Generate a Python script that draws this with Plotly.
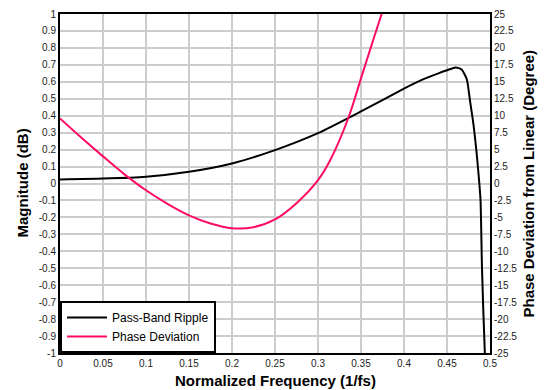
import plotly.graph_objects as go

# =========================
# DATA
# =========================
ripple_freq = [0, 0.05, 0.1, 0.15, 0.2, 0.25, 0.3, 0.35, 0.4, 0.42, 0.44, 0.45,
               0.46, 0.467, 0.473, 0.4767, 0.4806, 0.4845, 0.4876, 0.489,
               0.4907, 0.494, 0.4955]
ripple_db = [0.024, 0.029, 0.04, 0.069, 0.118, 0.197, 0.297, 0.425, 0.56, 0.61,
             0.65, 0.668, 0.685, 0.672, 0.615, 0.49, 0.355, 0.177, 0.0, -0.1,
             -0.5, -1.0, -1.1]

phase_freq = [0, 0.025, 0.05, 0.075, 0.1, 0.125, 0.15, 0.175, 0.2, 0.225,
              0.25, 0.275, 0.3, 0.314, 0.3345, 0.35, 0.362, 0.374, 0.378]
phase_deg = [9.6, 6.75, 4.0, 1.35, -1.0, -3.0, -4.7, -5.9, -6.6, -6.45,
             -5.3, -2.9, 0.5, 3.4, 9.4, 15.5, 20.3, 25.0, 26.5]

x_ticks = [0, 0.05, 0.1, 0.15, 0.2, 0.25, 0.3, 0.35, 0.4, 0.45, 0.5]
y_ticks = [1, 0.9, 0.8, 0.7, 0.6, 0.5, 0.4, 0.3, 0.2, 0.1, 0,
           -0.1, -0.2, -0.3, -0.4, -0.5, -0.6, -0.7, -0.8, -0.9, -1]
y2_ticks = [25, 22.5, 20, 17.5, 15, 12.5, 10, 7.5, 5, 2.5, 0,
            -2.5, -5, -7.5, -10, -12.5, -15, -17.5, -20, -22.5, -25]

FONT = "Liberation Sans, Arial, sans-serif"
GRID = "#cccccc"


def label(v):
    return f"{v:g}"


fig = go.Figure()

# Pass-band ripple (left axis)
fig.add_trace(
    go.Scatter(
        x=ripple_freq,
        y=ripple_db,
        mode="lines",
        name="Pass-Band Ripple",
        line=dict(color="black", width=2, shape="spline", smoothing=0.6)
    )
)

# Phase deviation (right axis)
fig.add_trace(
    go.Scatter(
        x=phase_freq,
        y=phase_deg,
        mode="lines",
        name="Phase Deviation",
        yaxis="y2",
        line=dict(color="#ff0a64", width=2, shape="spline", smoothing=1.0)
    )
)

axis_common = dict(
    showgrid=True,
    gridcolor=GRID,
    gridwidth=1.5,
    zeroline=False,
    showline=True,
    linecolor="black",
    linewidth=2,
    ticks="",
    automargin=False,
    tickfont=dict(family=FONT, size=10, color="#222222"),
)

fig.update_layout(
    width=546,
    height=390,
    margin=dict(l=60, r=56, t=14, b=37),
    paper_bgcolor="white",
    plot_bgcolor="white",
    font=dict(family=FONT, color="black"),
    showlegend=True,
    legend=dict(
        x=0, y=0, xanchor="left", yanchor="bottom",
        bgcolor="white",
        bordercolor="black",
        borderwidth=2,
        font=dict(family=FONT, size=12, color="black"),
        tracegroupgap=0,
        itemwidth=40,
    ),
    xaxis=dict(
        axis_common,
        range=[0, 0.5],
        tickvals=x_ticks,
        ticktext=[label(v) for v in x_ticks],
        mirror=True,
    ),
    yaxis=dict(
        axis_common,
        range=[-1, 1],
        tickvals=y_ticks,
        ticktext=[label(v) for v in y_ticks],
    ),
    yaxis2=dict(
        axis_common,
        showgrid=False,
        overlaying="y",
        side="right",
        range=[-25, 25],
        tickvals=y2_ticks,
        ticktext=[label(v) for v in y2_ticks],
    ),
)

# Axis titles as annotations so their positions stay fixed
title_font = dict(family=FONT, size=15, color="black")
fig.add_annotation(
    text="<b>Normalized Frequency (1/fs)</b>", xref="paper", yref="paper",
    x=0.5, y=0, yshift=-27, yanchor="middle", showarrow=False, font=title_font
)
fig.add_annotation(
    text="<b>Magnitude (dB)</b>", xref="paper", yref="paper",
    x=0, y=0.5, xshift=-38, xanchor="center", textangle=-90,
    showarrow=False, font=title_font
)
fig.add_annotation(
    text="<b>Phase Deviation from Linear (Degree)</b>", xref="paper", yref="paper",
    x=1, y=0.5, xshift=38, xanchor="center", textangle=-90,
    showarrow=False, font=title_font
)

# drop the browser's default body margin so the figure fills the window
fig.write_html(
    "out.html",
    config={"displayModeBar": False},
    post_script="document.body.style.margin='0';"
)
